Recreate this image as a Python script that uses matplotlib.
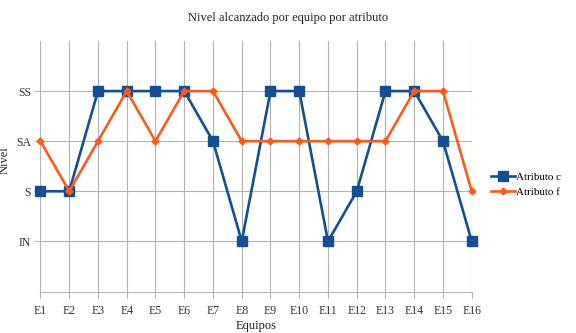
import matplotlib
matplotlib.use("Agg")
import matplotlib.pyplot as plt

plt.rcParams['font.family'] = ['Liberation Serif', 'DejaVu Serif']

equipos = ["E1", "E2", "E3", "E4", "E5", "E6", "E7", "E8",
           "E9", "E10", "E11", "E12", "E13", "E14", "E15", "E16"]
niveles = ["IN", "S", "SA", "SS"]

# levels coded 1=IN, 2=S, 3=SA, 4=SS
atributo_c = [2, 2, 4, 4, 4, 4, 3, 1, 4, 4, 1, 2, 4, 4, 3, 1]
atributo_f = [3, 2, 3, 4, 3, 4, 4, 3, 3, 3, 3, 3, 3, 4, 4, 2]

blue = "#134f92"
orange = "#fb5a1c"
grid_col = "#b4b4b4"

fig = plt.figure(figsize=(5.76, 3.33), dpi=100)
ax = fig.add_axes([0.0703, 0.1246, 0.7487, 0.7524])

x = list(range(1, len(equipos) + 1))
ax.plot(x, atributo_c, color=blue, lw=1.9, marker="s", markersize=7,
        label="Atributo c", zorder=3, clip_on=False)
ax.plot(x, atributo_f, color=orange, lw=1.9, marker="D", markersize=3.5,
        label="Atributo f", zorder=4, clip_on=False)

ax.set_xlim(1, len(equipos))
ax.set_ylim(0, 5)
ax.set_xticks(x)
ax.set_xticklabels(equipos)
ax.set_yticks([1, 2, 3, 4])
ax.set_yticklabels(niveles)
ax.grid(True, color=grid_col, lw=0.8)
ax.set_axisbelow(True)
for side in ["top", "right", "left"]:
    ax.spines[side].set_visible(False)
ax.spines["bottom"].set_color(grid_col)
ax.tick_params(length=4, color=grid_col, labelsize=8.5, labelcolor="#333333")
ax.tick_params(axis="x", pad=6)
ax.tick_params(axis="y", pad=3)

ax.set_xlabel("Equipos", fontsize=9, color="#222222", labelpad=2)
ax.set_ylabel("Nivel", fontsize=9, color="#222222")
ax.yaxis.set_label_coords(-0.068, 0.525)
fig.suptitle("Nivel alcanzado por equipo por atributo", x=0.5, y=0.965,
             fontsize=9, color="#222222")

# legend to the right of the plot, line samples with markers
fig.legend(loc="center left", bbox_to_anchor=(0.853, 0.445), frameon=False,
           fontsize=8, borderpad=0, borderaxespad=0, handlelength=2.1,
           handletextpad=0.15, labelspacing=0.45)

fig.savefig("out.png", dpi=100)
